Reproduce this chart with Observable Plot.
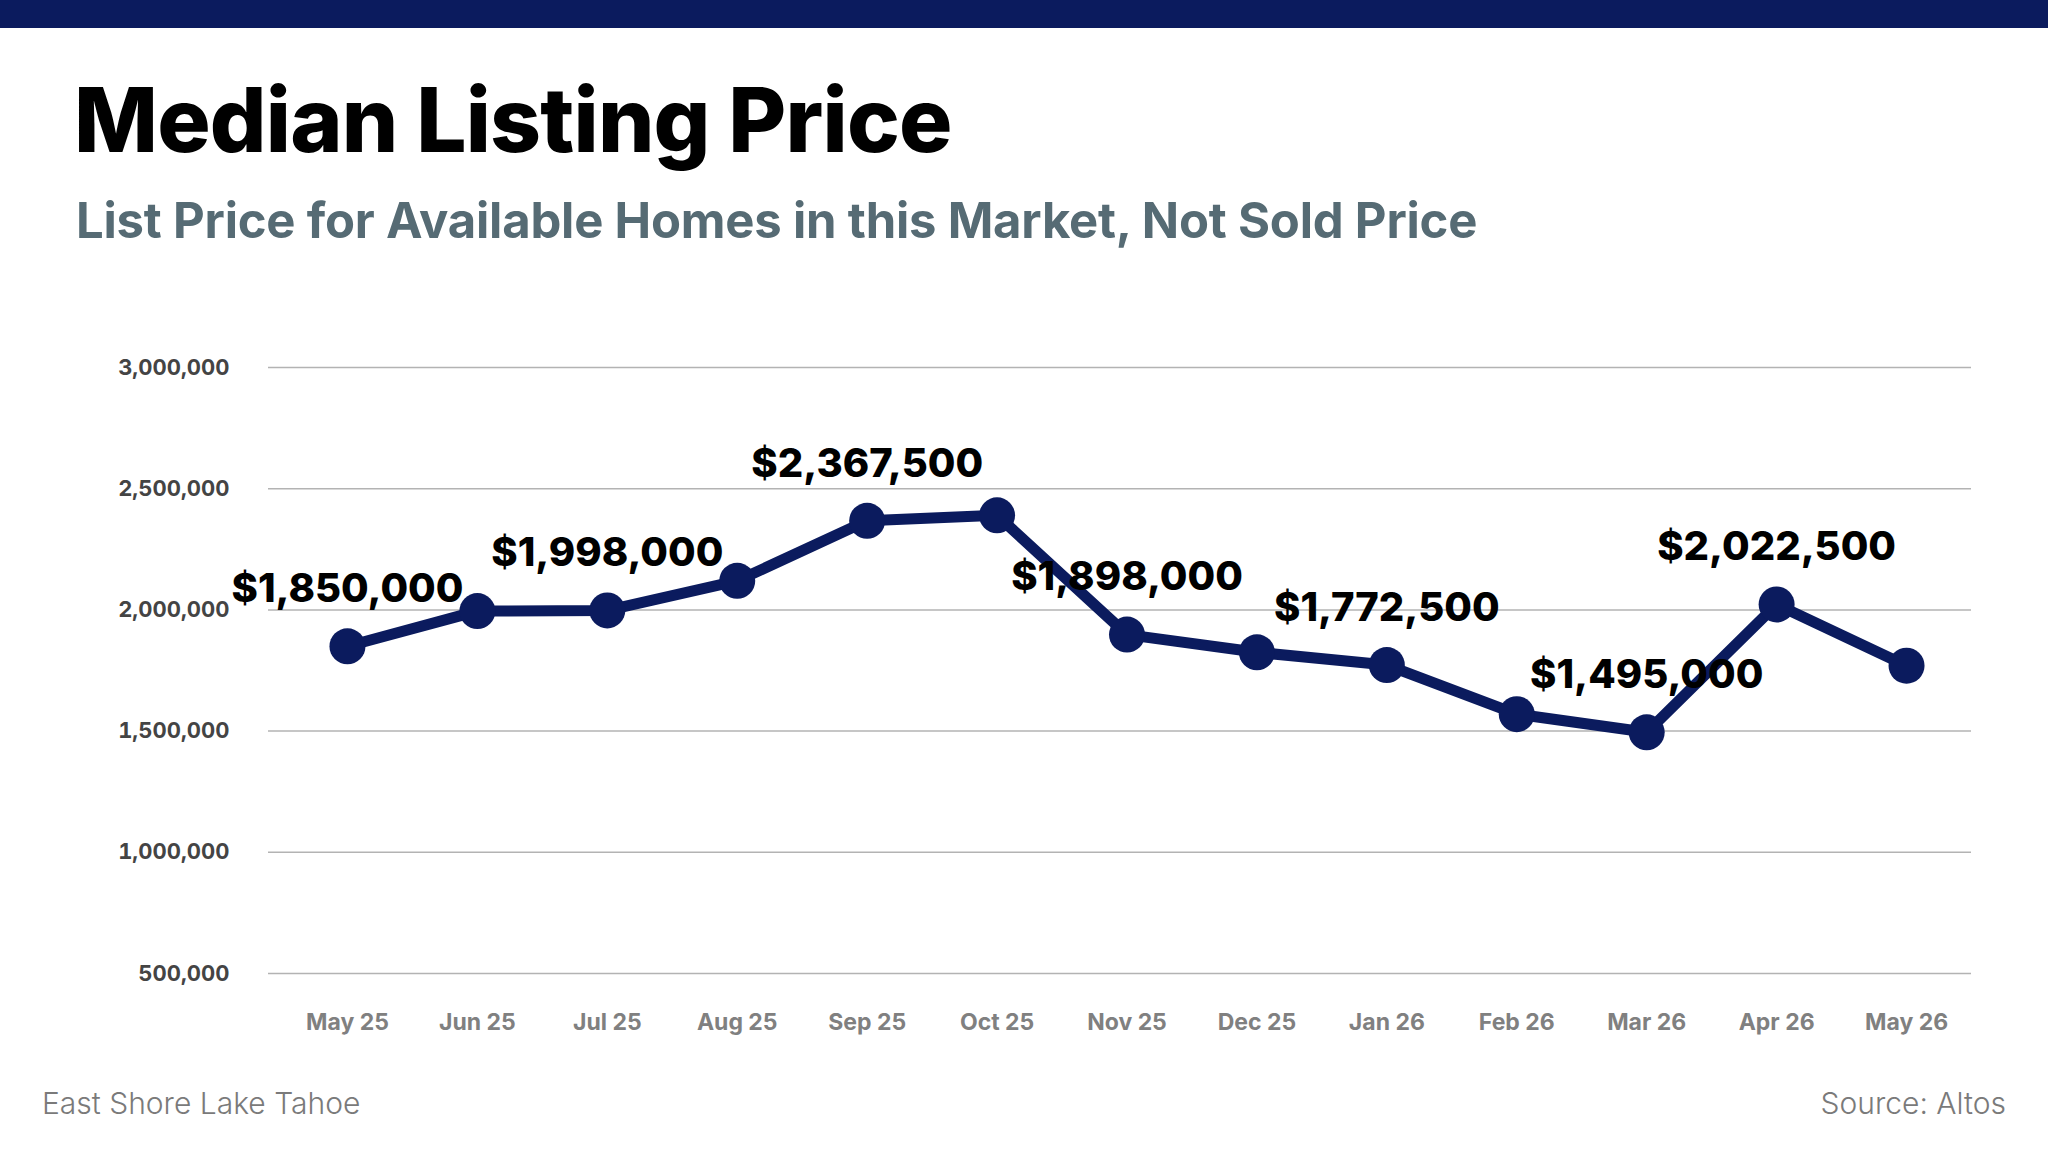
<!DOCTYPE html>
<html>
<head>
<meta charset="utf-8">
<script src="https://cdn.jsdelivr.net/npm/d3@7"></script>
<script src="https://cdn.jsdelivr.net/npm/@observablehq/plot@0.6"></script>
<style>
  html, body { margin: 0; padding: 0; background: #fff; }
  #page { position: relative; width: 2048px; height: 1152px; overflow: hidden; background: #fff; font-family: Inter, "Open Sans", sans-serif; }
  #bar { position: absolute; left: 0; top: 0; width: 2048px; height: 28px; background: #0b1b5e; }
  #title { position: absolute; left: 74px; top: 75px; font-size: 89px; font-weight: 800; color: #000; letter-spacing: -0.8px; line-height: 1; white-space: nowrap; }
  #subtitle { position: absolute; left: 76px; top: 196px; font-size: 49px; font-weight: 700; color: #566b74; line-height: 1; white-space: nowrap; letter-spacing: -0.2px; }
  #chart { position: absolute; left: 0; top: 300px; }
  .foot { position: absolute; top: 1088px; font-size: 30px; font-weight: 300; color: #7a7a7a; line-height: 1; white-space: nowrap; }
  #foot-left { left: 42px; }
  #foot-right { right: 42px; }
</style>
</head>
<body>
<div id="page">
  <div id="bar"></div>
  <div id="title">Median Listing Price</div>
  <div id="subtitle">List Price for Available Homes in this Market, Not Sold Price</div>
  <div id="chart"></div>
  <div class="foot" id="foot-left">East Shore Lake Tahoe</div>
  <div class="foot" id="foot-right">Source: Altos</div>
</div>
<script>
const months = ["May 25","Jun 25","Jul 25","Aug 25","Sep 25","Oct 25","Nov 25","Dec 25","Jan 26","Feb 26","Mar 26","Apr 26","May 26"];
const prices = [1850000, 1995000, 1998000, 2120000, 2367500, 2390000, 1898000, 1825000, 1772500, 1570000, 1495000, 2022500, 1770000];
const labeledMonths = ["May 25","Jul 25","Sep 25","Nov 25","Jan 26","Mar 26","Apr 26"];
const yTicks = [500000, 1000000, 1500000, 2000000, 2500000, 3000000];

const data = months.map((m, i) => ({month: m, price: prices[i]}));
const labeled = data.filter(d => labeledMonths.includes(d.month));
const navy = "#0b1b5e";

const chart = Plot.plot({
  width: 2048,
  height: 760,
  marginLeft: 268,
  marginRight: 77,
  marginTop: 67,
  marginBottom: 87,
  style: {fontFamily: "Inter, sans-serif", background: "transparent"},
  x: {type: "point", domain: months, padding: 0.5, insetLeft: 14, round: false},
  y: {domain: [500000, 3000000]},
  marks: [
    Plot.ruleY(yTicks, {stroke: "#b3b3b3", strokeWidth: 1.5}),
    Plot.axisY({ticks: yTicks, tickFormat: d3.format(","), tickSize: 0, tickPadding: 39,
      fontSize: 22, fontWeight: 700, fill: "#444", label: null}),
    Plot.axisX({tickSize: 0, tickPadding: 40, fontSize: 23, fontWeight: 700, fill: "#808080", label: null}),
    Plot.line(data, {x: "month", y: "price", stroke: navy, strokeWidth: 11, strokeLinejoin: "round"}),
    Plot.dot(data, {x: "month", y: "price", r: 18, fill: navy}),
    Plot.text(labeled, {x: "month", y: "price", text: d => d3.format("$,")(d.price), dy: -57,
      fontSize: 40, fontWeight: 800, fill: "#000"})
  ]
});
document.getElementById("chart").appendChild(chart);
</script>
</body>
</html>
